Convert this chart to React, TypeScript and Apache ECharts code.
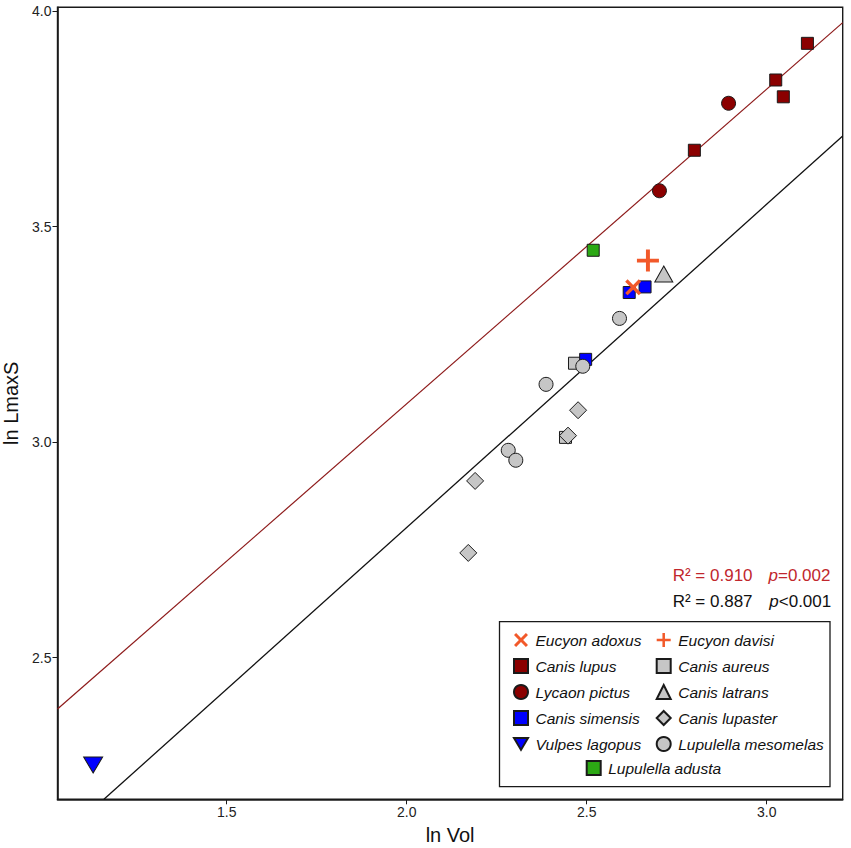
import React, { useEffect, useRef } from 'react';
import * as echarts from 'echarts';

// ---- data (ln Vol, ln LmaxS) ----
const eucyonAdoxus = [[2.629, 3.359]];
const eucyonDavisi = [[2.67, 3.421]];
const canisLupus = [[3.113, 3.925], [3.025, 3.84], [3.046, 3.801], [2.799, 3.677]];
const lycaonPictus = [[2.894, 3.786], [2.702, 3.583]];
const canisSimensis = [[2.618, 3.347], [2.662, 3.36], [2.497, 3.192]];
const vulpesLagopus = [[1.129, 2.251]];
const canisAureus = [[2.466, 3.183], [2.441, 3.011]];
const canisLatrans = [[2.714, 3.39]];
const canisLupaster = [[2.476, 3.074], [2.448, 3.015], [2.19, 2.91], [2.171, 2.743]];
const lupulellaMesomelas = [[2.591, 3.287], [2.489, 3.176], [2.387, 3.134], [2.282, 2.981], [2.303, 2.958]];
const lupulellaAdusta = [[2.518, 3.445]];

const fitRed = [[1.03, 2.381], [3.211, 3.973]];
const fitAll = [[1.159, 2.1715], [3.211, 3.71]];

const xTicks = [1.5, 2.0, 2.5, 3.0];
const yTicks = [2.5, 3.0, 3.5, 4.0];
const xRange = [1.03, 3.211];
const yRange = [2.1715, 4.0086];

const legendCol1 = ['Eucyon adoxus', 'Canis lupus', 'Lycaon pictus', 'Canis simensis', 'Vulpes lagopus'];
const legendCol2 = ['Eucyon davisi', 'Canis aureus', 'Canis latrans', 'Canis lupaster', 'Lupulella mesomelas'];
const legendCol3 = ['Lupulella adusta'];

const statRed = ['R² = 0.910', 'p', '=0.002'];
const statBlack = ['R² = 0.887', 'p', '<0.001'];

const X_PATH = 'path://M1.5,0L5,3.5L8.5,0L10,1.5L6.5,5L10,8.5L8.5,10L5,6.5L1.5,10L0,8.5L3.5,5L0,1.5Z';
const PLUS_PATH = 'path://M4.1,0H5.9V4.1H10V5.9H5.9V10H4.1V5.9H0V4.1H4.1Z';
const DOWN_TRI = 'path://M0,0L19,0L9.5,16Z';

const FONT = '"Liberation Sans", Arial, Helvetica, sans-serif';
const ORANGE = '#F2592A';
const DARKRED = '#8B0000';
const GREY = '#C6C6C6';
const BLUE = '#0000FF';
const GREEN = '#2CA814';
const EDGE = '#1a1a1a';

function scatter(name: string, data: number[][], symbol: string, size: any, color: string, bordered = true) {
  return {
    name,
    type: 'scatter',
    data,
    symbol,
    symbolSize: size,
    itemStyle: {
      color,
      borderColor: bordered ? EDGE : color,
      borderWidth: bordered ? 1 : 0,
      opacity: 1,
    },
    emphasis: { disabled: true },
    z: 3,
  };
}

export default function App() {
  const ref = useRef<HTMLDivElement>(null);
  useEffect(() => {
    if (!ref.current) return;
    const chart = echarts.init(ref.current, undefined, { renderer: 'svg' });
    const legendCommon = {
      orient: 'vertical',
      itemWidth: 14,
      itemHeight: 14,
      itemGap: 10,
      padding: 0,
      selectedMode: false,
      textStyle: {
        fontFamily: FONT,
        fontSize: 15.5,
        fontStyle: 'italic',
        color: '#111',
        padding: [0, 0, 0, 2.5],
      },
    };
    chart.setOption({
      animation: false,
      backgroundColor: '#fff',
      grid: {
        left: 57.5,
        right: 8.3,
        top: 7.3,
        bottom: 48.7,
        show: true,
        borderColor: EDGE,
        borderWidth: 1.4,
        backgroundColor: 'transparent',
        containLabel: false,
        outerBoundsMode: 'none',
      },
      xAxis: {
        type: 'value',
        min: xRange[0],
        max: xRange[1],
        name: 'ln Vol',
        nameLocation: 'middle',
        nameGap: 26,
        nameTextStyle: { fontFamily: FONT, fontSize: 20, color: '#111' },
        axisLine: { show: true, lineStyle: { color: EDGE, width: 1.6 } },
        axisTick: { show: true, length: 5, customValues: xTicks, lineStyle: { color: EDGE, width: 1 } },
        axisLabel: {
          customValues: xTicks,
          formatter: (v: number) => v.toFixed(1),
          fontFamily: FONT,
          fontSize: 14,
          color: '#222',
          margin: 6,
        },
        splitLine: { show: false },
      },
      yAxis: {
        type: 'value',
        min: yRange[0],
        max: yRange[1],
        name: 'ln LmaxS',
        nameLocation: 'middle',
        nameGap: 29.5,
        nameTextStyle: { fontFamily: FONT, fontSize: 20, color: '#111' },
        axisLine: { show: true, lineStyle: { color: EDGE, width: 1.6 } },
        axisTick: { show: true, length: 5, customValues: yTicks, lineStyle: { color: EDGE, width: 1 } },
        axisLabel: {
          customValues: yTicks,
          formatter: (v: number) => v.toFixed(1),
          fontFamily: FONT,
          fontSize: 14,
          color: '#222',
          margin: 6,
        },
        splitLine: { show: false },
      },
      legend: [
        { ...legendCommon, data: legendCol1, left: 513, top: 632 },
        { ...legendCommon, data: legendCol2, left: 655.7, top: 632 },
        { ...legendCommon, data: legendCol3, left: 585.7, top: 760 },
      ],
      graphic: [
        {
          type: 'rect',
          shape: { x: 499.5, y: 621.7, width: 330.5, height: 165 },
          style: { fill: '#fff', stroke: EDGE, lineWidth: 1.3 },
          z: 1,
          silent: true,
        },
        {
          type: 'text',
          x: 672.7,
          y: 575,
          style: { text: statRed[0], fill: '#C1272D', fontSize: 17, fontFamily: FONT, textVerticalAlign: 'middle' },
          z: 5,
        },
        {
          type: 'text',
          x: 768.5,
          y: 575,
          style: {
            text: '{i|' + statRed[1] + '}' + statRed[2],
            fill: '#C1272D',
            fontSize: 17,
            fontFamily: FONT,
            textVerticalAlign: 'middle',
            rich: { i: { fontStyle: 'italic', fontSize: 17, fontFamily: FONT, fill: '#C1272D' } },
          },
          z: 5,
        },
        {
          type: 'text',
          x: 672.7,
          y: 601.7,
          style: { text: statBlack[0], fill: '#111', fontSize: 17, fontFamily: FONT, textVerticalAlign: 'middle' },
          z: 5,
        },
        {
          type: 'text',
          x: 769.3,
          y: 601.7,
          style: {
            text: '{i|' + statBlack[1] + '}' + statBlack[2],
            fill: '#111',
            fontSize: 17,
            fontFamily: FONT,
            textVerticalAlign: 'middle',
            rich: { i: { fontStyle: 'italic', fontSize: 17, fontFamily: FONT, fill: '#111' } },
          },
          z: 5,
        },
      ],
      series: [
        {
          name: 'fitRed',
          type: 'line',
          data: fitRed,
          symbol: 'none',
          lineStyle: { color: '#8E1B1B', width: 1.2 },
          silent: true,
          z: 2,
        },
        {
          name: 'fitAll',
          type: 'line',
          data: fitAll,
          symbol: 'none',
          lineStyle: { color: '#111', width: 1.3 },
          silent: true,
          z: 2,
        },
        scatter('Canis aureus', canisAureus, 'rect', 12, GREY),
        scatter('Canis simensis', canisSimensis, 'rect', 12, BLUE),
        scatter('Canis lupaster', canisLupaster, 'diamond', 17, GREY),
        scatter('Lupulella mesomelas', lupulellaMesomelas, 'circle', 14, GREY),
        scatter('Canis lupus', canisLupus, 'rect', 12, DARKRED),
        scatter('Lycaon pictus', lycaonPictus, 'circle', 14, DARKRED),
        scatter('Canis latrans', canisLatrans, 'triangle', [18, 16], GREY),
        scatter('Vulpes lagopus', vulpesLagopus, DOWN_TRI, [19, 16], BLUE),
        scatter('Lupulella adusta', lupulellaAdusta, 'rect', 12, GREEN),
        scatter('Eucyon adoxus', eucyonAdoxus, X_PATH, 16, ORANGE, false),
        scatter('Eucyon davisi', eucyonDavisi, PLUS_PATH, 22, ORANGE, false),
      ],
    });
    return () => chart.dispose();
  }, []);
  return <div ref={ref} style={{ position: 'absolute', left: 0, top: 0, width: 851, height: 848 }} />;
}
